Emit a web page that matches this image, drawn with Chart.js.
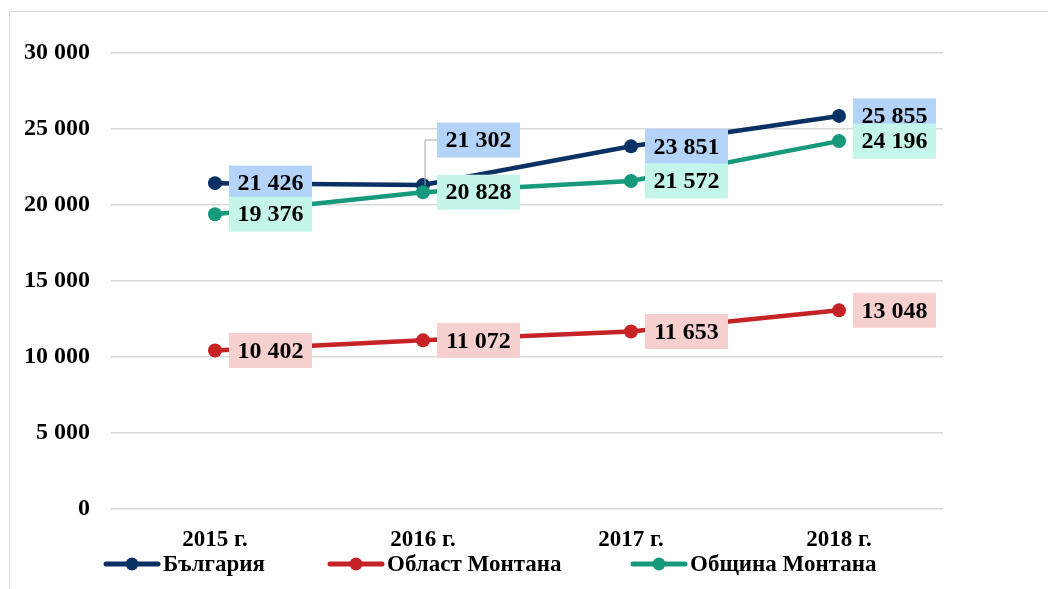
<!DOCTYPE html>
<html>
<head>
<meta charset="utf-8">
<script src="https://cdn.jsdelivr.net/npm/chart.js@4.4.1/dist/chart.umd.min.js"></script>
<style>
  body { margin: 0; background: #fff; }
  #wrap { position: relative; width: 1048px; height: 589px; overflow: hidden; }
  #frame { position: absolute; left: 9px; top: 11px; width: 1100px; height: 700px;
           border-left: 1px solid #d9d9d9; border-top: 1px solid #d9d9d9; }
  #chart { position: absolute; left: 0; top: 0; }
  .leg { position: absolute; top: 551px; display: flex; align-items: center;
         font: bold 23px "Liberation Serif", "Times New Roman", serif; color: #000; white-space: nowrap; }
  .leg svg { margin-right: 2px; }
</style>
</head>
<body>
<div id="wrap">
  <div id="frame"></div>
  <canvas id="chart" width="1048" height="589"></canvas>
  <div id="legend"></div>
</div>
<script>
const years = ['2015 г.', '2016 г.', '2017 г.', '2018 г.'];
const bulgaria = [21426, 21302, 23851, 25855];
const oblast = [10402, 11072, 11653, 13048];
const obshtina = [19376, 20828, 21572, 24196];
const yTicks = [0, 5000, 10000, 15000, 20000, 25000, 30000];

const seriesNames = ['България', 'Област Монтана', 'Община Монтана'];
const lineColors = ['#0a3163', '#c62327', '#179a7c'];
const boxColors = ['#b4d3f8', '#f6d0cf', '#c4f5eb'];

function fmt(v) {
    return String(v).replace(/\B(?=(\d{3})+(?!\d))/g, ' ');
}

// value boxes to the right of each point
const valueBoxes = {
    id: 'valueBoxes',
    afterDatasetsDraw(chart, args, opts) {
        const ctx = chart.ctx;
        ctx.save();
        ctx.font = 'bold 24px "Liberation Serif"';
        ctx.textAlign = 'center';
        ctx.textBaseline = 'middle';
        chart.data.datasets.forEach((ds, i) => {
            const meta = chart.getDatasetMeta(i);
            meta.data.forEach((pt, j) => {
                const shift = (opts.shift[i] && opts.shift[i][j]) || 0;
                const w = 83, h = 35;
                const x = pt.x + 14;
                const y = pt.y + shift;
                if (shift) {
                    ctx.strokeStyle = '#a6a6a6';
                    ctx.lineWidth = 1;
                    ctx.beginPath();
                    ctx.moveTo(pt.x + 2, pt.y);
                    ctx.lineTo(pt.x + 2, y);
                    ctx.lineTo(x, y);
                    ctx.stroke();
                }
                ctx.fillStyle = boxColors[i];
                ctx.fillRect(x, y - h / 2, w, h);
                ctx.fillStyle = '#000';
                ctx.fillText(fmt(ds.data[j]), x + w / 2, y + 1);
            });
        });
        ctx.restore();
    }
};

function makeSet(idx, values, order) {
    return {
        label: seriesNames[idx],
        data: values,
        borderColor: lineColors[idx],
        backgroundColor: lineColors[idx],
        borderWidth: 4.5,
        pointRadius: 7,
        pointHoverRadius: 7,
        pointBorderWidth: 0,
        tension: 0,
        order: order
    };
}

const chart = new Chart(document.getElementById('chart'), {
    type: 'line',
    data: {
        labels: years,
        datasets: [
            makeSet(0, bulgaria, 2),
            makeSet(1, oblast, 1),
            makeSet(2, obshtina, 0)
        ]
    },
    options: {
        responsive: false,
        animation: false,
        layout: { padding: { left: 20, right: 105, top: 53, bottom: 25 } },
        plugins: {
            legend: { display: false },
            tooltip: { enabled: false },
            valueBoxes: { shift: { 0: { 1: -45 } } }
        },
        scales: {
            x: {
                offset: true,
                grid: { display: false },
                border: { display: false },
                ticks: {
                    color: '#000',
                    padding: 10,
                    font: { family: 'Liberation Serif', size: 23, weight: 'bold' }
                }
            },
            y: {
                min: 0,
                max: 30000,
                afterBuildTicks: s => { s.ticks = yTicks.map(v => ({ value: v })); },
                afterFit: s => { s.width = 91; },
                grid: { color: '#d9d9d9', lineWidth: 1.5, drawTicks: false },
                border: { display: false },
                ticks: {
                    color: '#000',
                    padding: 21,
                    callback: v => fmt(v),
                    font: { family: 'Liberation Serif', size: 24, weight: 'bold' }
                }
            }
        }
    },
    plugins: [valueBoxes]
});

// legend below the axis
const legendLeft = [103, 327, 630];
const legendBox = document.getElementById('legend');
seriesNames.forEach((name, i) => {
    const item = document.createElement('div');
    item.className = 'leg';
    item.style.left = legendLeft[i] + 'px';
    item.innerHTML =
        '<svg width="58" height="16"><line x1="3" y1="8" x2="55" y2="8" stroke="' + lineColors[i] +
        '" stroke-width="5" stroke-linecap="round"/><circle cx="29" cy="8" r="6.5" fill="' + lineColors[i] +
        '"/></svg><span>' + name + '</span>';
    legendBox.appendChild(item);
});
</script>
</body>
</html>
